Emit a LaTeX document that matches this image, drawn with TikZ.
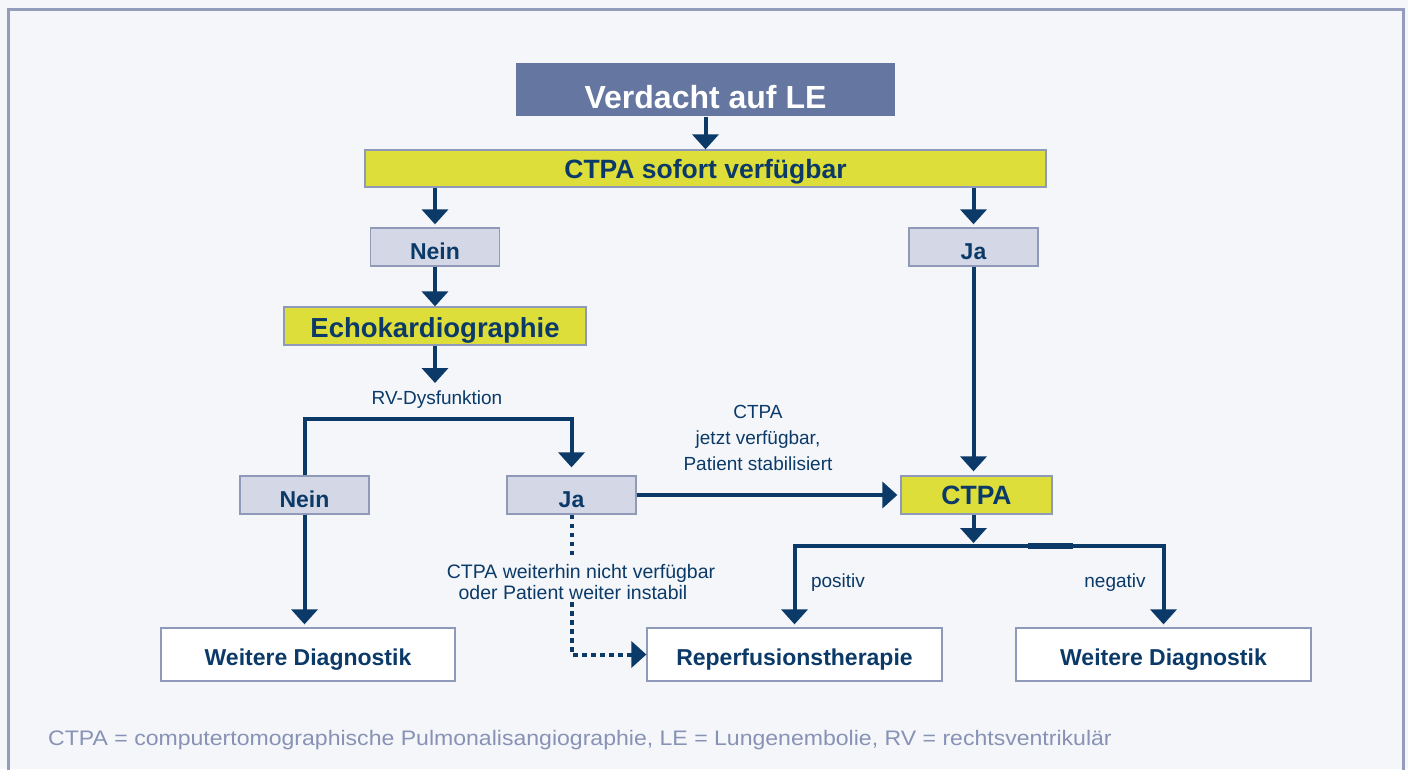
\documentclass[tikz,border=0pt]{standalone}
\usepackage{fontspec}
\usepackage{graphicx}
\setmainfont{Liberation Sans}
\usetikzlibrary{arrows.meta}
\definecolor{navy}{HTML}{0B3A68}
\definecolor{bg}{HTML}{F4F6FA}
\definecolor{framec}{HTML}{939CBA}
\definecolor{slate}{HTML}{6577A0}
\definecolor{ylw}{HTML}{DEDE3A}
\definecolor{lgray}{HTML}{D4D8E6}
\definecolor{bbord}{HTML}{8F9AB8}
\definecolor{foot}{HTML}{8792B5}
\newcommand{\fsz}[2]{\fontsize{#1pt}{#2pt}\selectfont}
\begin{document}
\begin{tikzpicture}[x=1pt,y=-1pt,
 box/.style={draw=bbord,line width=1.3pt,inner sep=0pt,text=navy,font=\bfseries\fsz{23}{27},text depth=0pt},
 ybox/.style={box,fill=ylw},
 gbox/.style={box,fill=lgray,minimum width=129pt,minimum height=38pt,text height=24.5pt},
 wbox/.style={box,fill=white,minimum width=294pt,minimum height=53pt,text height=21.5pt},
 conn/.style={draw=navy,line width=4pt},
 arr/.style={conn,-{Triangle[width=26pt,length=15pt]}},
 dotarr/.style={arr,dash pattern=on 4.5pt off 4.5pt},
 dotline/.style={conn,dash pattern=on 4.5pt off 4.5pt},
 lbl/.style={text=navy,font=\fsz{19}{26},align=center,inner sep=0pt}
]
\fill[bg] (0,0) rectangle (1408,769);
\useasboundingbox (0,0) rectangle (1408,769);
\draw[framec,line width=3pt] (8,775) -- (8,9) -- (1403,9) -- (1403,775);

% nodes
\node[box,fill=slate,draw=none,text=white,font=\bfseries\fsz{32}{36},minimum width=379pt,minimum height=53pt,text height=37pt] (verd) at (705.5,89.5) {Verdacht auf LE};
\node[ybox,font=\bfseries\fsz{26.5}{30},minimum width=681pt,minimum height=37pt,text height=19.5pt] (ctpaS) at (705.5,168.5) {CTPA sofort verfügbar};
\node[gbox] (nein1) at (435,247) {Nein};
\node[gbox] (ja1) at (973.5,247) {Ja};
\node[ybox,font=\bfseries\fsz{27.5}{31},minimum width=302pt,minimum height=38pt,text height=23.5pt] (echo) at (435,326) {Echokardiographie};
\node[gbox] (nein2) at (304.5,495) {Nein};
\node[gbox] (ja2) at (571.5,495) {Ja};
\node[ybox,font=\bfseries\fsz{26.5}{30},minimum width=151pt,minimum height=38pt,text height=19pt] (ctpa) at (976.5,495) {CTPA};
\node[wbox] (wd1) at (308,654.5) {Weitere Diagnostik};
\node[wbox,minimum width=295pt] (rep) at (794.5,654.5) {Reperfusionstherapie};
\node[wbox,minimum width=295pt] (wd2) at (1163.5,654.5) {Weitere Diagnostik};

% labels
\node[lbl] (rvl) at (437,400) {RV-Dysfunktion};
\node[lbl] (avail) at (758,438) {CTPA\\jetzt verfügbar,\\Patient stabilisiert};
\node[lbl,font=\fsz{19.5}{21.5}] (instab) at (581,582) {CTPA weiterhin nicht verfügbar\\\hspace*{-16pt}oder Patient weiter instabil};
\node[lbl] (pos) at (838,583) {positiv};
\node[lbl] (neg) at (1115,583) {negativ};

% coordinates
\coordinate (rvtip) at (435,383);
\coordinate (rvbar) at (0,419);
\coordinate (split) at (0,546);

% connectors
\draw[arr] (verd.south) -- (verd.south |- ctpaS.north);
\draw[arr,shorten >=3pt] (nein1.north |- ctpaS.south) -- (nein1.north);
\draw[arr,shorten >=3pt] (ja1.north |- ctpaS.south) -- (ja1.north);
\draw[arr] (nein1.south) -- (echo.north);
\draw[arr] (echo.south) -- (rvtip);
\draw[conn,line join=miter] (nein2.north) -- (nein2.north |- rvbar) -- (ja2.north |- rvbar) -- ([yshift=22pt]ja2.north);
\draw[arr,shorten >=8pt] ([yshift=24pt]ja2.north) -- (ja2.north);
\draw[arr,shorten >=3pt] (nein2.south) -- (nein2.south |- wd1.north);
\draw[arr,shorten >=3pt] (ja2.east) -- (ctpa.west);
\draw[arr,shorten >=4pt] (ja1.south) -- (ja1.south |- ctpa.north);
\draw[arr,shorten >=3pt] (ja1.south |- ctpa.south) -- (ja1.south |- split);
\draw[conn,line join=miter,{Triangle[width=26pt,length=15pt]}-{Triangle[width=26pt,length=15pt]},shorten <=3pt,shorten >=3pt] (rep.north) -- (rep.north |- split) -- (wd2.north |- split) -- (wd2.north);
\fill[navy] (1028,543) rectangle (1073,549);
\draw[dotline] (ja2.south) -- ([yshift=8pt]ja2.south |- instab.north);
\draw[dotarr] ([yshift=-2pt]ja2.south |- instab.south) |- (rep.west);

% footnote
\node[anchor=west,text=foot,font=\fsz{21}{24},inner sep=0pt] (fn) at (48,740) {\scalebox{1.098}[1]{CTPA = computertomographische Pulmonalisangiographie, LE = Lungenembolie, RV = rechtsventrikulär}};
\end{tikzpicture}
\end{document}
